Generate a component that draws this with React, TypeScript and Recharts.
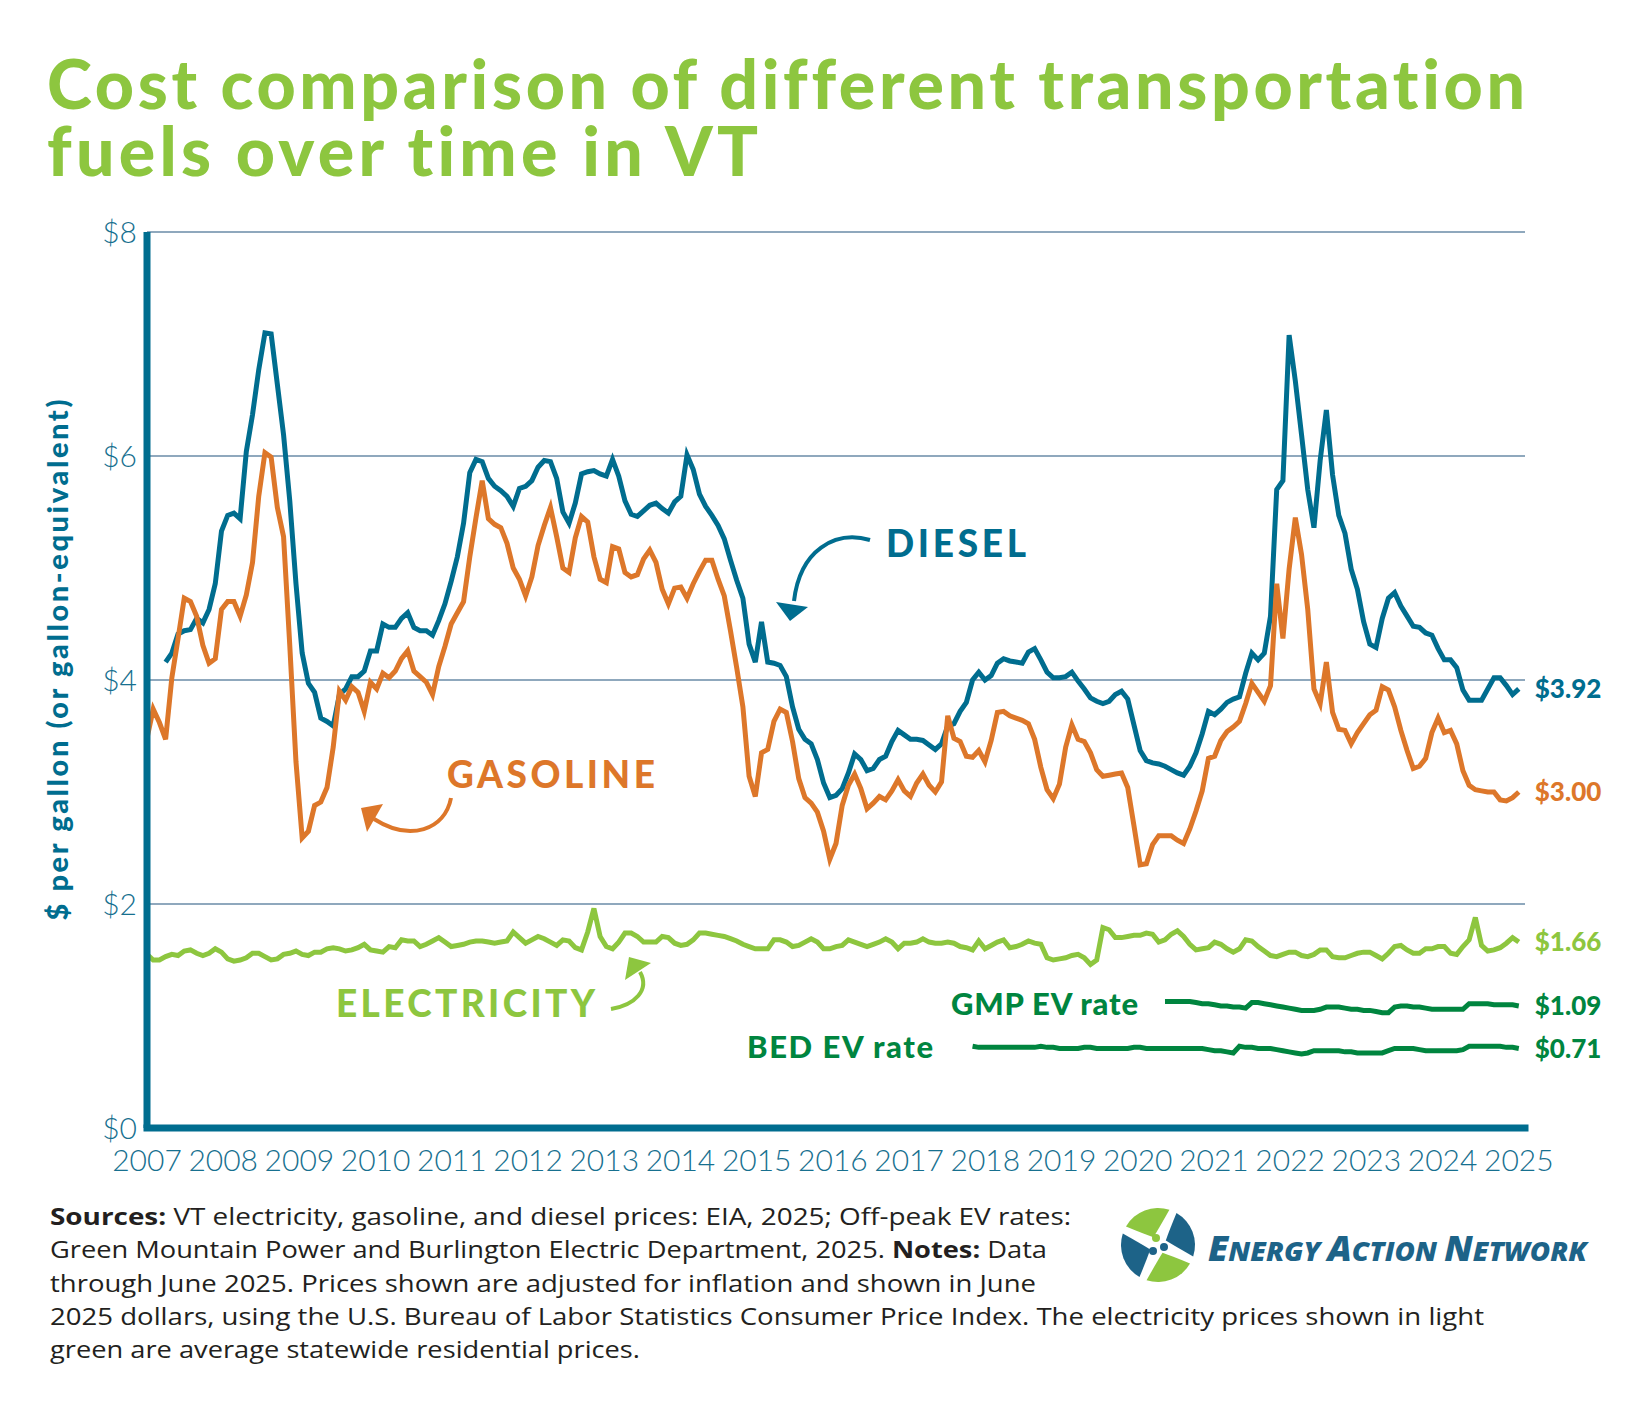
import React from "react";
import { LineChart, Line, XAxis, YAxis, CartesianGrid, LabelList } from "recharts";

// Monthly series, Jan 2007 – Jun 2025 (222 points), $ per gallon-equivalent in 2025 dollars
const YEARS = [
  "2007", "2008", "2009", "2010", "2011", "2012", "2013", "2014", "2015",
  "2016", "2017", "2018", "2019", "2020", "2021", "2022", "2023", "2024", "2025",
];

const DIESEL = [
  null, null, null, 4.16, 4.24, 4.41, 4.44, 4.45, 4.55, 4.51,
  4.63, 4.86, 5.33, 5.47, 5.49, 5.44, 6.04, 6.37, 6.77, 7.1,
  7.09, 6.64, 6.19, 5.6, 4.86, 4.24, 3.97, 3.89, 3.66, 3.63,
  3.59, 3.87, 3.92, 4.03, 4.03, 4.08, 4.26, 4.26, 4.5, 4.47,
  4.47, 4.55, 4.6, 4.47, 4.44, 4.44, 4.4, 4.53, 4.68, 4.88,
  5.1, 5.4, 5.85, 5.97, 5.95, 5.8, 5.73, 5.69, 5.64, 5.55,
  5.71, 5.73, 5.78, 5.9, 5.96, 5.95, 5.8, 5.5, 5.4, 5.58,
  5.84, 5.86, 5.87, 5.84, 5.82, 5.97, 5.82, 5.6, 5.48, 5.46,
  5.51, 5.56, 5.58, 5.53, 5.49, 5.59, 5.64, 6.01, 5.88, 5.66,
  5.55, 5.47, 5.38, 5.26, 5.07, 4.89, 4.73, 4.32, 4.16, 4.52,
  4.16, 4.15, 4.13, 4.03, 3.76, 3.56, 3.47, 3.43, 3.29, 3.08,
  2.95, 2.97, 3.03, 3.17, 3.34, 3.29, 3.19, 3.21, 3.29, 3.32,
  3.45, 3.55, 3.51, 3.47, 3.47, 3.46, 3.42, 3.38, 3.43, 3.59,
  3.61, 3.72, 3.8, 4.0, 4.07, 4.0, 4.04, 4.15, 4.19, 4.17,
  4.16, 4.15, 4.25, 4.28, 4.18, 4.07, 4.02, 4.02, 4.03, 4.07,
  3.99, 3.92, 3.84, 3.81, 3.79, 3.81, 3.87, 3.9, 3.83, 3.6,
  3.37, 3.28, 3.26, 3.25, 3.23, 3.2, 3.17, 3.15, 3.23, 3.35,
  3.52, 3.72, 3.69, 3.74, 3.8, 3.83, 3.85, 4.06, 4.24, 4.18,
  4.24, 4.57, 5.7, 5.78, 7.08, 6.67, 6.19, 5.7, 5.36, 5.96,
  6.41, 5.83, 5.47, 5.31, 4.99, 4.81, 4.52, 4.32, 4.29, 4.55,
  4.73, 4.78, 4.66, 4.57, 4.48, 4.47, 4.42, 4.4, 4.28, 4.18,
  4.18, 4.11, 3.91, 3.82, 3.82, 3.82, 3.92, 4.02, 4.02, 3.95,
  3.87, 3.92,
];

const GASOLINE = [
  3.48, 3.74, 3.62, 3.47, 4.02, 4.37, 4.73, 4.7, 4.57, 4.31,
  4.15, 4.19, 4.63, 4.7, 4.7, 4.57, 4.76, 5.05, 5.64, 6.03,
  5.99, 5.54, 5.28, 4.31, 3.27, 2.59, 2.65, 2.88, 2.91, 3.04,
  3.4, 3.9, 3.82, 3.94, 3.89, 3.72, 3.98, 3.92, 4.06, 4.02,
  4.08, 4.19, 4.26, 4.08, 4.03, 3.98, 3.87, 4.12, 4.3, 4.5,
  4.6, 4.7, 5.1, 5.45, 5.78, 5.44, 5.39, 5.36, 5.22, 5.0,
  4.9, 4.75, 4.92, 5.2, 5.38, 5.54, 5.28, 5.0, 4.96, 5.27,
  5.46, 5.41, 5.1, 4.9, 4.87, 5.19, 5.17, 4.96, 4.92, 4.94,
  5.08, 5.16, 5.05, 4.81, 4.68, 4.82, 4.83, 4.73, 4.86, 4.97,
  5.07, 5.07, 4.9, 4.75, 4.44, 4.11, 3.76, 3.14, 2.96, 3.35,
  3.38, 3.63, 3.74, 3.71, 3.45, 3.12, 2.95, 2.9, 2.82, 2.65,
  2.4, 2.54, 2.88, 3.06, 3.16, 3.03, 2.85, 2.9, 2.96, 2.93,
  3.01, 3.11, 3.01, 2.96, 3.08, 3.16, 3.06, 3.0, 3.09, 3.68,
  3.48, 3.45, 3.32, 3.31, 3.37, 3.27, 3.46, 3.71, 3.72, 3.68,
  3.66, 3.64, 3.61, 3.47, 3.22, 3.02, 2.94, 3.07, 3.4, 3.6,
  3.47, 3.45, 3.35, 3.2, 3.14, 3.15, 3.16, 3.17, 3.04, 2.7,
  2.35, 2.36, 2.53, 2.61, 2.61, 2.61, 2.57, 2.54, 2.67, 2.83,
  3.01, 3.3, 3.32, 3.46, 3.54, 3.58, 3.63, 3.79, 3.97, 3.89,
  3.81, 3.95, 4.86, 4.37, 4.99, 5.45, 5.12, 4.63, 3.92, 3.79,
  4.16, 3.71, 3.56, 3.55, 3.43, 3.53, 3.61, 3.69, 3.73, 3.94,
  3.91, 3.76, 3.55, 3.37, 3.21, 3.23, 3.3, 3.53, 3.66, 3.53,
  3.55, 3.43, 3.19, 3.06, 3.02, 3.01, 3.0, 3.0, 2.93, 2.92,
  2.95, 3.0,
];

const ELECTRICITY = [
  1.55, 1.5, 1.5, 1.53, 1.55, 1.54, 1.58, 1.59, 1.56, 1.54,
  1.56, 1.6, 1.57, 1.51, 1.49, 1.5, 1.52, 1.56, 1.56, 1.53,
  1.5, 1.51, 1.55, 1.56, 1.58, 1.55, 1.54, 1.57, 1.57, 1.6,
  1.61, 1.6, 1.58, 1.59, 1.61, 1.64, 1.59, 1.58, 1.57, 1.62,
  1.61, 1.68, 1.67, 1.67, 1.62, 1.64, 1.67, 1.7, 1.66, 1.62,
  1.63, 1.64, 1.66, 1.67, 1.67, 1.66, 1.65, 1.66, 1.67, 1.75,
  1.7, 1.65, 1.68, 1.71, 1.69, 1.66, 1.63, 1.68, 1.67, 1.61,
  1.59, 1.75, 1.96, 1.71, 1.62, 1.6, 1.66, 1.74, 1.74, 1.71,
  1.66, 1.66, 1.66, 1.71, 1.7, 1.65, 1.63, 1.64, 1.68, 1.74,
  1.74, 1.73, 1.72, 1.71, 1.69, 1.67, 1.64, 1.62, 1.6, 1.6,
  1.6, 1.68, 1.68, 1.66, 1.62, 1.63, 1.66, 1.69, 1.66, 1.6,
  1.6, 1.62, 1.63, 1.68, 1.66, 1.64, 1.62, 1.64, 1.66, 1.69,
  1.66, 1.6, 1.65, 1.65, 1.66, 1.69, 1.66, 1.65, 1.65, 1.66,
  1.65, 1.62, 1.61, 1.59, 1.67, 1.6, 1.63, 1.66, 1.68, 1.61,
  1.62, 1.64, 1.67, 1.65, 1.64, 1.52, 1.5, 1.51, 1.52, 1.54,
  1.55, 1.52, 1.46, 1.5, 1.79, 1.77, 1.7, 1.7, 1.71, 1.72,
  1.72, 1.74, 1.73, 1.66, 1.68, 1.73, 1.76, 1.71, 1.64, 1.59,
  1.6, 1.61, 1.66, 1.64, 1.6, 1.57, 1.6, 1.68, 1.67, 1.62,
  1.58, 1.54, 1.53, 1.55, 1.57, 1.57, 1.54, 1.53, 1.55, 1.59,
  1.59, 1.53, 1.52, 1.52, 1.54, 1.56, 1.57, 1.57, 1.54, 1.51,
  1.56, 1.62, 1.63, 1.59, 1.56, 1.56, 1.6, 1.6, 1.62, 1.62,
  1.56, 1.55, 1.62, 1.68, 1.88, 1.63, 1.58, 1.59, 1.61, 1.65,
  1.7, 1.66,
];

// Off-peak EV rates only exist for part of the period
const GMP_START = 164;
const GMP_EV = [
  1.13, 1.13, 1.13, 1.13, 1.13, 1.12, 1.11, 1.11, 1.1, 1.09,
  1.09, 1.08, 1.08, 1.07, 1.12, 1.12, 1.11, 1.1, 1.09, 1.08,
  1.07, 1.06, 1.05, 1.05, 1.05, 1.06, 1.08, 1.08, 1.08, 1.07,
  1.06, 1.06, 1.05, 1.05, 1.04, 1.03, 1.03, 1.08, 1.09, 1.09,
  1.08, 1.08, 1.07, 1.06, 1.06, 1.06, 1.06, 1.06, 1.06, 1.11,
  1.11, 1.11, 1.11, 1.1, 1.1, 1.1, 1.1, 1.09,
];

const BED_START = 133;
const BED_EV = [
  0.73, 0.72, 0.72, 0.72, 0.72, 0.72, 0.72, 0.72, 0.72, 0.72,
  0.72, 0.73, 0.72, 0.72, 0.71, 0.71, 0.71, 0.71, 0.72, 0.72,
  0.71, 0.71, 0.71, 0.71, 0.71, 0.71, 0.72, 0.72, 0.71, 0.71,
  0.71, 0.71, 0.71, 0.71, 0.71, 0.71, 0.71, 0.71, 0.7, 0.69,
  0.69, 0.68, 0.67, 0.73, 0.72, 0.72, 0.71, 0.71, 0.71, 0.7,
  0.69, 0.68, 0.67, 0.66, 0.67, 0.69, 0.69, 0.69, 0.69, 0.69,
  0.68, 0.68, 0.67, 0.67, 0.67, 0.67, 0.67, 0.69, 0.71, 0.71,
  0.71, 0.71, 0.7, 0.69, 0.69, 0.69, 0.69, 0.69, 0.69, 0.7,
  0.73, 0.73, 0.73, 0.73, 0.73, 0.73, 0.72, 0.72, 0.71,
];

const N = GASOLINE.length;
const LAST = N - 1;

const data = GASOLINE.map((g, i) => ({
  i,
  diesel: DIESEL[i],
  gasoline: g,
  electricity: ELECTRICITY[i],
  gmp: i >= GMP_START ? GMP_EV[i - GMP_START] : null,
  bed: i >= BED_START ? BED_EV[i - BED_START] : null,
}));

// year labels are spread evenly across the whole run of months
const YEAR_STEP = LAST / (YEARS.length - 1);
const X_TICKS = YEARS.map((_, k) => k * YEAR_STEP);

const FONT = "Lato, 'Open Sans', sans-serif";
const TEAL = "#006d8f";
const TICK = "#17708f";
const ORANGE = "#dd772a";
const LIGHT_GREEN = "#8dc63f";
const DARK_GREEN = "#00853f";
const GRID = "#8fa8bd";
const INK = "#231f20";
const LOGO_BLUE = "#1d6388";

const NO_LIGATURES = { fontVariantLigatures: "none" as const };

const endLabel = (color: string) => (props: any) => {
  if (props.index !== LAST) return null;
  const x = props.x ?? props.viewBox?.x;
  const y = props.y ?? props.viewBox?.y;
  return (
    <text
      x={x + 16}
      y={y}
      dy="0.36em"
      fill={color}
      fontSize={26}
      fontWeight={900}
      fontFamily={FONT}
    >
      {`$${Number(props.value).toFixed(2)}`}
    </text>
  );
};

const FOOTER = [
  { y: 1225, w: 1021, parts: [["Sources:", true], [" VT electricity, gasoline, and diesel prices: EIA, 2025; Off-peak EV rates:", false]] },
  { y: 1258, w: 997, parts: [["Green Mountain Power and Burlington Electric Department, 2025. ", false], ["Notes:", true], [" Data", false]] },
  { y: 1292, w: 986, parts: [["through June 2025. Prices shown are adjusted for inflation and shown in June", false]] },
  { y: 1325, w: 1434, parts: [["2025 dollars, using the U.S. Bureau of Labor Statistics Consumer Price Index. The electricity prices shown in light", false]] },
  { y: 1358, w: 590, parts: [["green are average statewide residential prices.", false]] },
];

function polar(deg: number, r: number) {
  const a = (deg * Math.PI) / 180;
  return `${(Math.cos(a) * r).toFixed(2)} ${(Math.sin(a) * r).toFixed(2)}`;
}

// one swirl blade of the logo mark
function blade(base: number) {
  const R = 37;
  return [
    `M ${polar(base, R)}`,
    `A ${R} ${R} 0 0 1 ${polar(base + 78, R)}`,
    `Q ${polar(base + 62, 16)} ${polar(base + 30, 9)}`,
    `Q ${polar(base + 8, 18)} ${polar(base, R)}`,
    "Z",
  ].join(" ");
}

function Logo() {
  return (
    <g>
      <g transform="translate(1158 1245)">
        <path d={blade(-150)} fill={LIGHT_GREEN} />
        <path d={blade(-60)} fill={LOGO_BLUE} />
        <path d={blade(30)} fill={LIGHT_GREEN} />
        <path d={blade(120)} fill={LOGO_BLUE} />
        <circle cx={-2} cy={-7} r={4} fill={LIGHT_GREEN} />
        <circle cx={6} cy={2} r={4} fill={LOGO_BLUE} />
        <circle cx={-5} cy={6} r={4} fill={LOGO_BLUE} />
      </g>
      <text
        x={1208}
        y={1261}
        fill={LOGO_BLUE}
        fontStyle="italic"
        fontWeight={800}
        fontFamily="'Open Sans', Lato, sans-serif"
        textLength={379}
        lengthAdjust="spacingAndGlyphs"
      >
        <tspan fontSize={35}>E</tspan>
        <tspan fontSize={27}>NERGY </tspan>
        <tspan fontSize={35}>A</tspan>
        <tspan fontSize={27}>CTION </tspan>
        <tspan fontSize={35}>N</tspan>
        <tspan fontSize={27}>ETWORK</tspan>
      </text>
    </g>
  );
}

export default function App() {
  const tickStyle = { fill: TICK, fontSize: 30, fontWeight: 300, fontFamily: FONT };
  return (
    <div
      style={{
        position: "absolute",
        left: 0,
        top: 0,
        width: 1650,
        height: 1410,
        background: "#fff",
        fontFamily: FONT,
      }}
    >
      <LineChart
        width={1650}
        height={1410}
        data={data}
        margin={{ top: 232, right: 125, bottom: 242, left: 87 }}
      >
        <CartesianGrid vertical={false} stroke={GRID} strokeWidth={2} />
        <XAxis
          dataKey="i"
          type="number"
          domain={[0, N]}
          ticks={X_TICKS}
          interval={0}
          tickFormatter={(v: number) => YEARS[Math.round(v / YEAR_STEP)]}
          tickLine={false}
          tickMargin={16}
          height={40}
          axisLine={{ stroke: TEAL, strokeWidth: 7, strokeLinecap: "square" }}
          tick={tickStyle}
        />
        <YAxis
          domain={[0, 8]}
          ticks={[0, 2, 4, 6, 8]}
          width={60}
          tickLine={false}
          tickMargin={4}
          tickFormatter={(v: number) => `$${v}`}
          axisLine={{ stroke: TEAL, strokeWidth: 7 }}
          tick={tickStyle}
        />
        <Line
          type="linear"
          dataKey="electricity"
          stroke={LIGHT_GREEN}
          strokeWidth={5}
          dot={false}
          isAnimationActive={false}
        >
          <LabelList dataKey="electricity" content={endLabel(LIGHT_GREEN)} />
        </Line>
        <Line
          type="linear"
          dataKey="bed"
          stroke={DARK_GREEN}
          strokeWidth={5}
          dot={false}
          isAnimationActive={false}
        >
          <LabelList dataKey="bed" content={endLabel(DARK_GREEN)} />
        </Line>
        <Line
          type="linear"
          dataKey="gmp"
          stroke={DARK_GREEN}
          strokeWidth={5}
          dot={false}
          isAnimationActive={false}
        >
          <LabelList dataKey="gmp" content={endLabel(DARK_GREEN)} />
        </Line>
        <Line
          type="linear"
          dataKey="diesel"
          stroke={TEAL}
          strokeWidth={5}
          dot={false}
          isAnimationActive={false}
        >
          <LabelList dataKey="diesel" content={endLabel(TEAL)} />
        </Line>
        <Line
          type="linear"
          dataKey="gasoline"
          stroke={ORANGE}
          strokeWidth={5}
          dot={false}
          isAnimationActive={false}
        >
          <LabelList dataKey="gasoline" content={endLabel(ORANGE)} />
        </Line>
      </LineChart>

      <svg
        width={1650}
        height={1410}
        fontFamily={FONT}
        style={{ position: "absolute", left: 0, top: 0, pointerEvents: "none" }}
      >
        {/* title */}
        <text x={47} y={109} fontSize={68} fontWeight={900} fill={LIGHT_GREEN} textLength={1478} lengthAdjust="spacing" style={NO_LIGATURES}>
          Cost comparison of different transportation
        </text>
        <text x={47} y={176} fontSize={68} fontWeight={900} fill={LIGHT_GREEN} textLength={711} lengthAdjust="spacing" style={NO_LIGATURES}>
          fuels over time in VT
        </text>

        {/* y axis title */}
        <text
          x={68}
          y={660}
          transform="rotate(-90 68 660)"
          textAnchor="middle"
          fontSize={29}
          fontWeight={900}
          fill={TEAL}
          textLength={521}
          lengthAdjust="spacing"
        >
          $ per gallon (or gallon-equivalent)
        </text>

        {/* series call-outs */}
        <text x={886} y={557} fontSize={37} fontWeight={900} fill={TEAL} textLength={140} lengthAdjust="spacing">
          DIESEL
        </text>
        <path d="M 870 540 C 835 530 800 550 794 601" fill="none" stroke={TEAL} strokeWidth={4} />
        <polygon points="776,602 808,607 790,621" fill={TEAL} />

        <text x={447} y={788} fontSize={37} fontWeight={900} fill={ORANGE} textLength={208} lengthAdjust="spacing">
          GASOLINE
        </text>
        <path d="M 451 798 C 445 830 410 842 374 819" fill="none" stroke={ORANGE} strokeWidth={4} />
        <polygon points="361,808 383,804 367,832" fill={ORANGE} />

        <text x={336} y={1017} fontSize={37} fontWeight={900} fill={LIGHT_GREEN} textLength={259} lengthAdjust="spacing">
          ELECTRICITY
        </text>
        <path d="M 611 1009 C 635 1005 650 990 640 972" fill="none" stroke={LIGHT_GREEN} strokeWidth={4} />
        <polygon points="629,957 625,980 651,963" fill={LIGHT_GREEN} />

        <text x={951} y={1015} fontSize={31} fontWeight={900} fill={DARK_GREEN} textLength={187} lengthAdjust="spacing">
          GMP EV rate
        </text>
        <text x={747} y={1058} fontSize={31} fontWeight={900} fill={DARK_GREEN} textLength={186} lengthAdjust="spacing">
          BED EV rate
        </text>

        {/* notes */}
        {FOOTER.map((line, k) => (
          <text
            key={k}
            x={50}
            y={line.y}
            fontSize={24}
            fill={INK}
            fontFamily="'Open Sans', Lato, sans-serif"
            textLength={line.w}
            lengthAdjust="spacingAndGlyphs"
          >
            {line.parts.map(([t, bold], j) => (
              <tspan key={j} fontWeight={bold ? 700 : 400}>
                {t as string}
              </tspan>
            ))}
          </text>
        ))}

        <Logo />
      </svg>
    </div>
  );
}
